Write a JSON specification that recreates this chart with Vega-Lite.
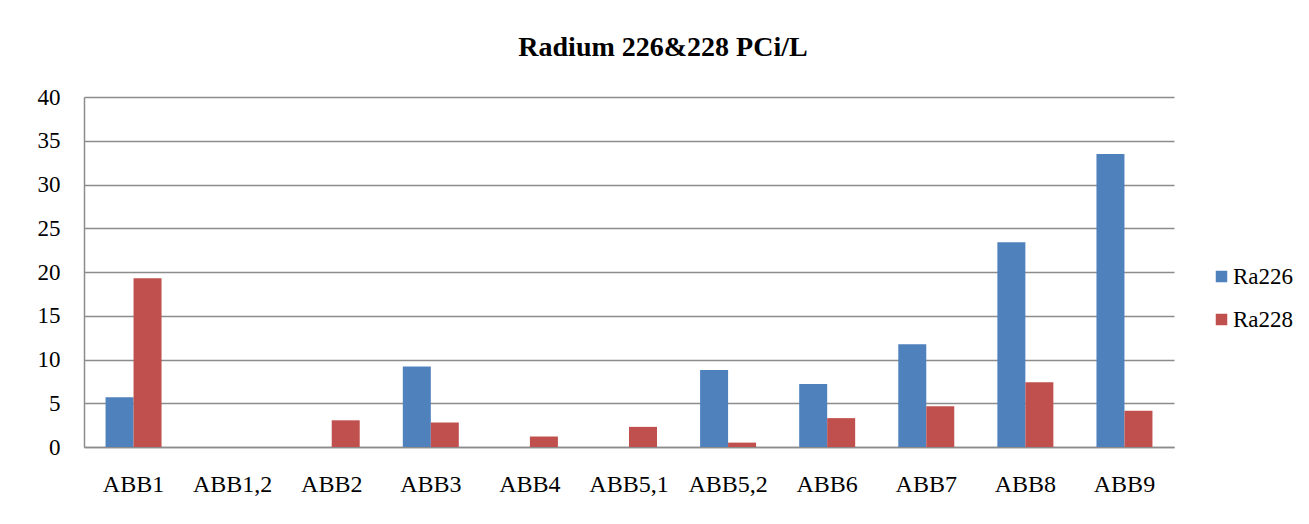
{
  "$schema": "https://vega.github.io/schema/vega-lite/v6.json",
  "autosize": "none",
  "width": 1090,
  "height": 350,
  "padding": {"left": 84, "top": 97, "right": 135, "bottom": 77},
  "background": "white",
  "title": {
    "text": "Radium 226&228  PCi/L",
    "font": "Liberation Serif",
    "fontSize": 28,
    "fontWeight": "bold",
    "color": "black",
    "anchor": "middle",
    "dx": 34,
    "offset": 24
  },
  "data": {
    "values": [
      {"site": "ABB1", "isotope": "Ra226", "value": 5.7},
      {"site": "ABB1", "isotope": "Ra228", "value": 19.3},
      {"site": "ABB1,2", "isotope": "Ra226", "value": 0},
      {"site": "ABB1,2", "isotope": "Ra228", "value": 0},
      {"site": "ABB2", "isotope": "Ra226", "value": 0},
      {"site": "ABB2", "isotope": "Ra228", "value": 3.05},
      {"site": "ABB3", "isotope": "Ra226", "value": 9.2},
      {"site": "ABB3", "isotope": "Ra228", "value": 2.8},
      {"site": "ABB4", "isotope": "Ra226", "value": 0},
      {"site": "ABB4", "isotope": "Ra228", "value": 1.2},
      {"site": "ABB5,1", "isotope": "Ra226", "value": 0},
      {"site": "ABB5,1", "isotope": "Ra228", "value": 2.3},
      {"site": "ABB5,2", "isotope": "Ra226", "value": 8.8},
      {"site": "ABB5,2", "isotope": "Ra228", "value": 0.5},
      {"site": "ABB6", "isotope": "Ra226", "value": 7.2},
      {"site": "ABB6", "isotope": "Ra228", "value": 3.3},
      {"site": "ABB7", "isotope": "Ra226", "value": 11.75},
      {"site": "ABB7", "isotope": "Ra228", "value": 4.65},
      {"site": "ABB8", "isotope": "Ra226", "value": 23.4},
      {"site": "ABB8", "isotope": "Ra228", "value": 7.4},
      {"site": "ABB9", "isotope": "Ra226", "value": 33.5},
      {"site": "ABB9", "isotope": "Ra228", "value": 4.15}
    ]
  },
  "mark": {"type": "bar"},
  "encoding": {
    "x": {
      "field": "site",
      "type": "nominal",
      "sort": null,
      "title": null,
      "scale": {"paddingInner": 0.435, "paddingOuter": 0.2175},
      "axis": {
        "labelAngle": 0,
        "ticks": false,
        "domainColor": "#8c8c8c",
        "domainWidth": 1.5,
        "labelFont": "Liberation Serif",
        "labelFontSize": 24,
        "labelColor": "black",
        "labelPadding": 25
      }
    },
    "xOffset": {"field": "isotope", "type": "nominal"},
    "y": {
      "field": "value",
      "type": "quantitative",
      "title": null,
      "scale": {"domain": [0, 40], "nice": false},
      "axis": {
        "values": [0, 5, 10, 15, 20, 25, 30, 35, 40],
        "ticks": false,
        "grid": true,
        "gridColor": "#8c8c8c",
        "gridWidth": 1.5,
        "domainColor": "#8c8c8c",
        "domainWidth": 1.5,
        "labelFont": "Liberation Serif",
        "labelFontSize": 23,
        "labelColor": "black",
        "labelPadding": 24
      }
    },
    "color": {
      "field": "isotope",
      "type": "nominal",
      "scale": {"domain": ["Ra226", "Ra228"], "range": ["#4F81BD", "#C0504D"]},
      "legend": {
        "title": null,
        "orient": "none",
        "legendX": 1126,
        "legendY": 168,
        "padding": 0,
        "symbolType": "square",
        "symbolSize": 132,
        "symbolStrokeWidth": 0,
        "labelFont": "Liberation Serif",
        "labelFontSize": 23,
        "labelColor": "black",
        "labelOffset": 0,
        "rowPadding": 19
      }
    }
  },
  "config": {"view": {"stroke": null}, "font": "Liberation Serif", "legend": {"labelFont": "Liberation Serif"}}
}
